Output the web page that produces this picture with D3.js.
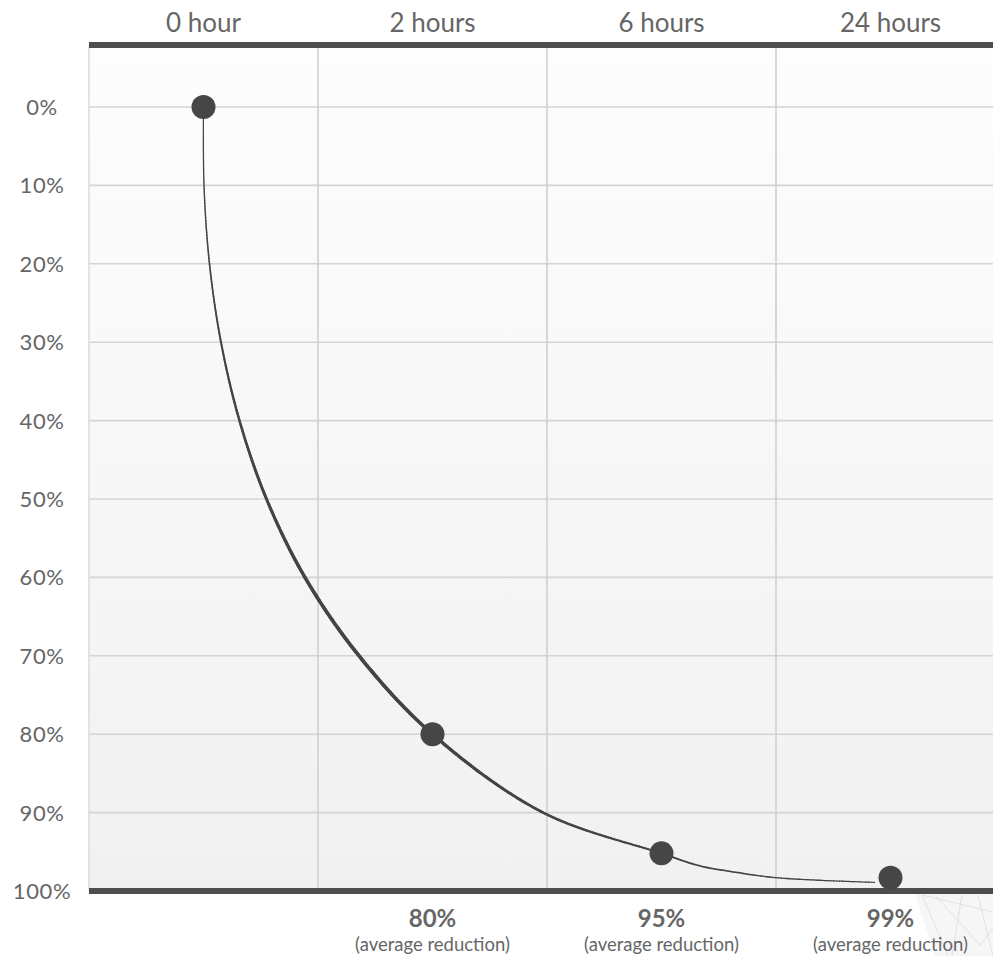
<!DOCTYPE html>
<html>
<head>
<meta charset="utf-8">
<script src="https://cdn.jsdelivr.net/npm/d3@7"></script>
<style>
  html, body { margin: 0; padding: 0; background: #ffffff; }
  svg { display: block; }
  text { font-family: Lato, "Open Sans", sans-serif; fill: #666; }
</style>
</head>
<body>
<svg id="chart" width="993" height="956"></svg>
<script>
// ---- data ----
const categories = ["0 hour", "2 hours", "6 hours", "24 hours"];
const dotValues = [0, 80, 95.2, 98.3];            // reduction at each time (dot positions)
const reductionLabels = ["", "80%", "95%", "99%"];
const reductionSubLabel = "(average reduction)";
const yTicks = [0, 10, 20, 30, 40, 50, 60, 70, 80, 90, 100];
// decay curve (position along the time axis, reduction %)
const curveIndex = [0, 0.0022, 0.0262, 0.0764, 0.1572, 0.2751, 0.4432, 0.679, 1, 1.483, 2, 2.168, 2.30, 2.5, 2.93];
const curvePct   = [0, 10, 20, 30, 40, 50, 60, 70, 80, 90, 95.2, 96.8, 97.5, 98.3, 98.9];

// ---- layout ----
const W = 993, H = 956;
const plotLeft = 89, plotRight = 1005, plotTop = 45, plotBottom = 891;
const svg = d3.select("#chart");

const x = d3.scaleBand().domain(categories).range([plotLeft, plotRight]).padding(0);
const xc = c => x(c) + x.bandwidth() / 2;
const xi = d3.scaleLinear().domain([0, categories.length - 1])
  .range([xc(categories[0]), xc(categories[categories.length - 1])]);
const y = d3.scaleLinear().domain([0, 100]).range([107, 891]);

// background gradient of the plot area
const defs = svg.append("defs");
const grad = defs.append("linearGradient").attr("id", "bg").attr("x1", 0).attr("y1", 0).attr("x2", 0).attr("y2", 1);
grad.append("stop").attr("offset", "0%").attr("stop-color", "#fdfdfd");
grad.append("stop").attr("offset", "100%").attr("stop-color", "#f1f1f1");
defs.append("clipPath").attr("id", "ylabClip").append("rect")
  .attr("x", 15).attr("y", 0).attr("width", 80).attr("height", H);

svg.append("rect").attr("x", plotLeft).attr("y", plotTop)
  .attr("width", W - plotLeft).attr("height", plotBottom - plotTop)
  .attr("fill", "url(#bg)");

// faint watermark bottom-right
svg.append("path").attr("d", "M915,894 L993,894 L993,956 L935,956 Z").attr("fill", "#f0f0f0").attr("opacity", 0.6);
svg.append("path")
  .attr("d", "M922,895 L948,956 M935,895 L980,945 L993,928 M962,895 L952,956 M922,895 L993,912 M978,895 L993,956")
  .attr("stroke", "#dcdcdc").attr("stroke-width", 1).attr("fill", "none").attr("opacity", 0.8);

// horizontal gridlines
svg.append("g").selectAll("line").data(yTicks).join("line")
  .attr("x1", plotLeft).attr("x2", W)
  .attr("y1", d => y(d)).attr("y2", d => y(d))
  .attr("stroke", "#d4d4d4").attr("stroke-width", 1.6);

// vertical gridlines (band boundaries) + left border
svg.append("g").selectAll("line").data(categories).join("line")
  .attr("x1", d => x(d)).attr("x2", d => x(d))
  .attr("y1", plotTop).attr("y2", plotBottom)
  .attr("stroke", d => d === categories[0] ? "#dcdcdc" : "#d0d0d0")
  .attr("stroke-width", 1.6);

// thick top / bottom rules
svg.append("line").attr("x1", plotLeft).attr("x2", W).attr("y1", plotTop).attr("y2", plotTop)
  .attr("stroke", "#4d4d4d").attr("stroke-width", 6);
svg.append("line").attr("x1", plotLeft).attr("x2", W).attr("y1", plotBottom).attr("y2", plotBottom)
  .attr("stroke", "#4d4d4d").attr("stroke-width", 6);

// top category labels
svg.append("g").selectAll("text").data(categories).join("text")
  .attr("x", d => xc(d)).attr("y", 32)
  .attr("text-anchor", "middle")
  .attr("font-size", 26)
  .text(d => d);

// y labels
svg.append("g").attr("clip-path", "url(#ylabClip)").selectAll("text").data(yTicks).join("text")
  .attr("x", 42).attr("y", d => y(d) + 8)
  .attr("text-anchor", "middle")
  .attr("font-size", 22)
  .attr("letter-spacing", 0.6)
  .text(d => d + "%");

// decay curve with tapered stroke
const lineGen = d3.line()
  .x((d, i) => xi(curveIndex[i]))
  .y((d, i) => y(curvePct[i]))
  .curve(d3.curveCatmullRom.alpha(0.5));
const basePath = svg.append("path").attr("d", lineGen(curvePct))
  .attr("fill", "none").attr("stroke", "none");
const node = basePath.node();
const L = node.getTotalLength();
const N = 400;
const samples = d3.range(N + 1).map(i => node.getPointAtLength(L * i / N));
const segs = d3.range(N).map(i => ({ a: samples[i], b: samples[i + 1], t: (i + 0.5) / N }));
const widthAt = t => 1.0 + 2.6 * Math.exp(-Math.pow((t - 0.5) / 0.3, 2));
svg.append("g").selectAll("line").data(segs).join("line")
  .attr("x1", d => d.a.x).attr("y1", d => d.a.y)
  .attr("x2", d => d.b.x).attr("y2", d => d.b.y)
  .attr("stroke", "#444").attr("stroke-linecap", "round")
  .attr("stroke-width", d => widthAt(d.t));

// dots
svg.append("g").selectAll("circle").data(categories).join("circle")
  .attr("cx", d => xc(d)).attr("cy", (d, i) => y(dotValues[i]))
  .attr("r", 12).attr("fill", "#464646");

// bottom reduction labels
const bl = svg.append("g").selectAll("g").data(categories.filter((d, i) => reductionLabels[i])).join("g");
bl.append("text")
  .attr("x", d => xc(d)).attr("y", 927)
  .attr("text-anchor", "middle").attr("font-size", 24).attr("font-weight", 700)
  .attr("fill", "#5e5e5e")
  .text(d => reductionLabels[categories.indexOf(d)]);
bl.append("text")
  .attr("x", d => xc(d)).attr("y", 951)
  .attr("text-anchor", "middle").attr("font-size", 18.5)
  .text(reductionSubLabel);
</script>
</body>
</html>
